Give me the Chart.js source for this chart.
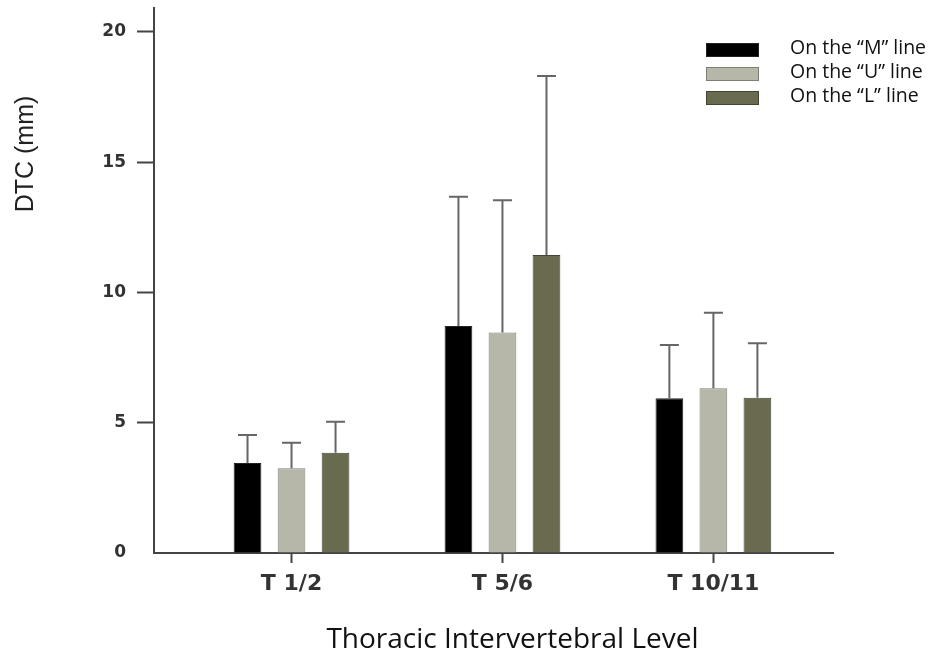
<!DOCTYPE html>
<html lang="en">
<head>
<meta charset="UTF-8" />
<title>DTC by thoracic intervertebral level</title>
<script src="https://cdn.jsdelivr.net/npm/chart.js"></script>
<style>
  body { margin: 0; background: #fff; }
  .wrap { position: relative; width: 934px; height: 656px; color: #111; }
  canvas { position: absolute; left: 0; top: 0; }
  .ytitle { position: absolute; left: -55.4px; top: 138.5px; width: 160px; height: 30px; line-height: 30px;
            text-align: center; font: 25px 'Liberation Sans', Arial, sans-serif; color: #222; transform: rotate(-90deg); }
  .xtitle { position: absolute; left: 312.5px; top: 618.4px; width: 400px; line-height: 38px; text-align: center;
            font: 28px 'Open Sans', sans-serif; white-space: nowrap; }
  .legend-row { position: absolute; left: 706px; height: 24px; width: 228px; }
  .legend-box { position: absolute; left: 0; top: 10.3px; width: 53px; height: 14px; box-sizing: border-box; border: 1px solid; }
  .legend-text { position: absolute; left: 84px; top: 0; line-height: 24px; font: 19.5px 'Open Sans', sans-serif; white-space: nowrap; }
</style>
</head>
<body>
<div class="wrap" id="wrap">
  <canvas id="chart" width="934" height="656"></canvas>
  <div class="ytitle">DTC (mm)</div>
  <div class="xtitle">Thoracic Intervertebral Level</div>
</div>
<script>
  const categories = ['T 1/2', 'T 5/6', 'T 10/11'];
  const seriesNames = ['On the \u201cM\u201d line', 'On the \u201cU\u201d line', 'On the \u201cL\u201d line'];
  const meanM = [3.45, 8.71, 5.94];
  const meanU = [3.25, 8.46, 6.32];
  const meanL = [3.85, 11.44, 5.96];
  const sdM = [1.08, 4.96, 2.04];
  const sdU = [0.98, 5.08, 2.90];
  const sdL = [1.19, 6.87, 2.09];
  const yTicks = [0, 5, 10, 15, 20];

  const fills = ['#000000', '#b6b7a9', '#6a6a4f'];
  const borders = ['#222222', '#7d7e74', '#444433'];

  const toPoints = values => values.map((v, i) => ({ x: i, y: v }));

  const datasets = [meanM, meanU, meanL].map((values, i) => ({
    label: seriesNames[i],
    data: toPoints(values),
    sd: [sdM, sdU, sdL][i],
    backgroundColor: fills[i],
    borderColor: borders[i],
    borderWidth: 1,
    categoryPercentage: 0.626,
    barPercentage: 0.63
  }));

  // legend, built from the same names and colours
  const wrap = document.getElementById('wrap');
  seriesNames.forEach((name, i) => {
    const row = document.createElement('div');
    row.className = 'legend-row';
    row.style.top = (32.7 + 24 * i) + 'px';
    row.innerHTML = `<div class="legend-box" style="background:${fills[i]};border-color:${borders[i]}"></div>` +
      `<div class="legend-text">${name}</div>`;
    wrap.appendChild(row);
  });

  const errorBars = {
    id: 'errorBars',
    afterDatasetsDraw(chart) {
      const { ctx } = chart;
      const y = chart.scales.y;
      ctx.save();
      ctx.strokeStyle = '#666';
      ctx.lineWidth = 2;
      chart.data.datasets.forEach((ds, di) => {
        chart.getDatasetMeta(di).data.forEach((bar, i) => {
          const top = y.getPixelForValue(ds.data[i].y + ds.sd[i]);
          ctx.beginPath();
          ctx.moveTo(bar.x, bar.y);
          ctx.lineTo(bar.x, top);
          ctx.moveTo(bar.x - 9.5, top);
          ctx.lineTo(bar.x + 9.5, top);
          ctx.stroke();
        });
      });
      ctx.restore();
    }
  };

  const noPad = scale => {
    scale.paddingTop = 0;
    scale.paddingBottom = 0;
    scale.paddingLeft = 0;
    scale.paddingRight = 0;
  };

  new Chart(document.getElementById('chart'), {
    type: 'bar',
    data: { datasets },
    plugins: [errorBars],
    options: {
      responsive: false,
      animation: false,
      layout: { padding: { left: 0, top: 8, right: 101, bottom: 0 } },
      plugins: { legend: { display: false }, tooltip: { enabled: false } },
      scales: {
        x: {
          type: 'linear',
          offset: false,
          min: -0.652,
          max: 2.567,
          afterFit: scale => { scale.height = 103; noPad(scale); },
          afterBuildTicks: scale => { scale.ticks = categories.map((_, i) => ({ value: i })); },
          border: { color: '#444', width: 2 },
          grid: { offset: false, drawOnChartArea: false, drawTicks: true, tickLength: 10, tickColor: '#444', tickWidth: 2 },
          ticks: {
            padding: 8,
            color: '#333',
            font: { family: 'DejaVu Sans', size: 22, weight: 'bold' },
            callback: value => categories[value]
          }
        },
        y: {
          min: 0,
          max: 20.92,
          afterFit: scale => { scale.width = 154; noPad(scale); },
          afterBuildTicks: scale => { scale.ticks = yTicks.map(v => ({ value: v })); },
          border: { color: '#444', width: 2 },
          grid: {
            drawOnChartArea: false,
            drawTicks: true,
            tickLength: 17,
            tickWidth: 2,
            tickColor: ctx => (ctx.tick && ctx.tick.value === 0 ? 'rgba(0,0,0,0)' : '#444')
          },
          ticks: {
            padding: 11,
            color: '#333',
            font: { family: 'DejaVu Sans', size: 17, weight: 'bold' }
          }
        }
      }
    }
  });
</script>
</body>
</html>
